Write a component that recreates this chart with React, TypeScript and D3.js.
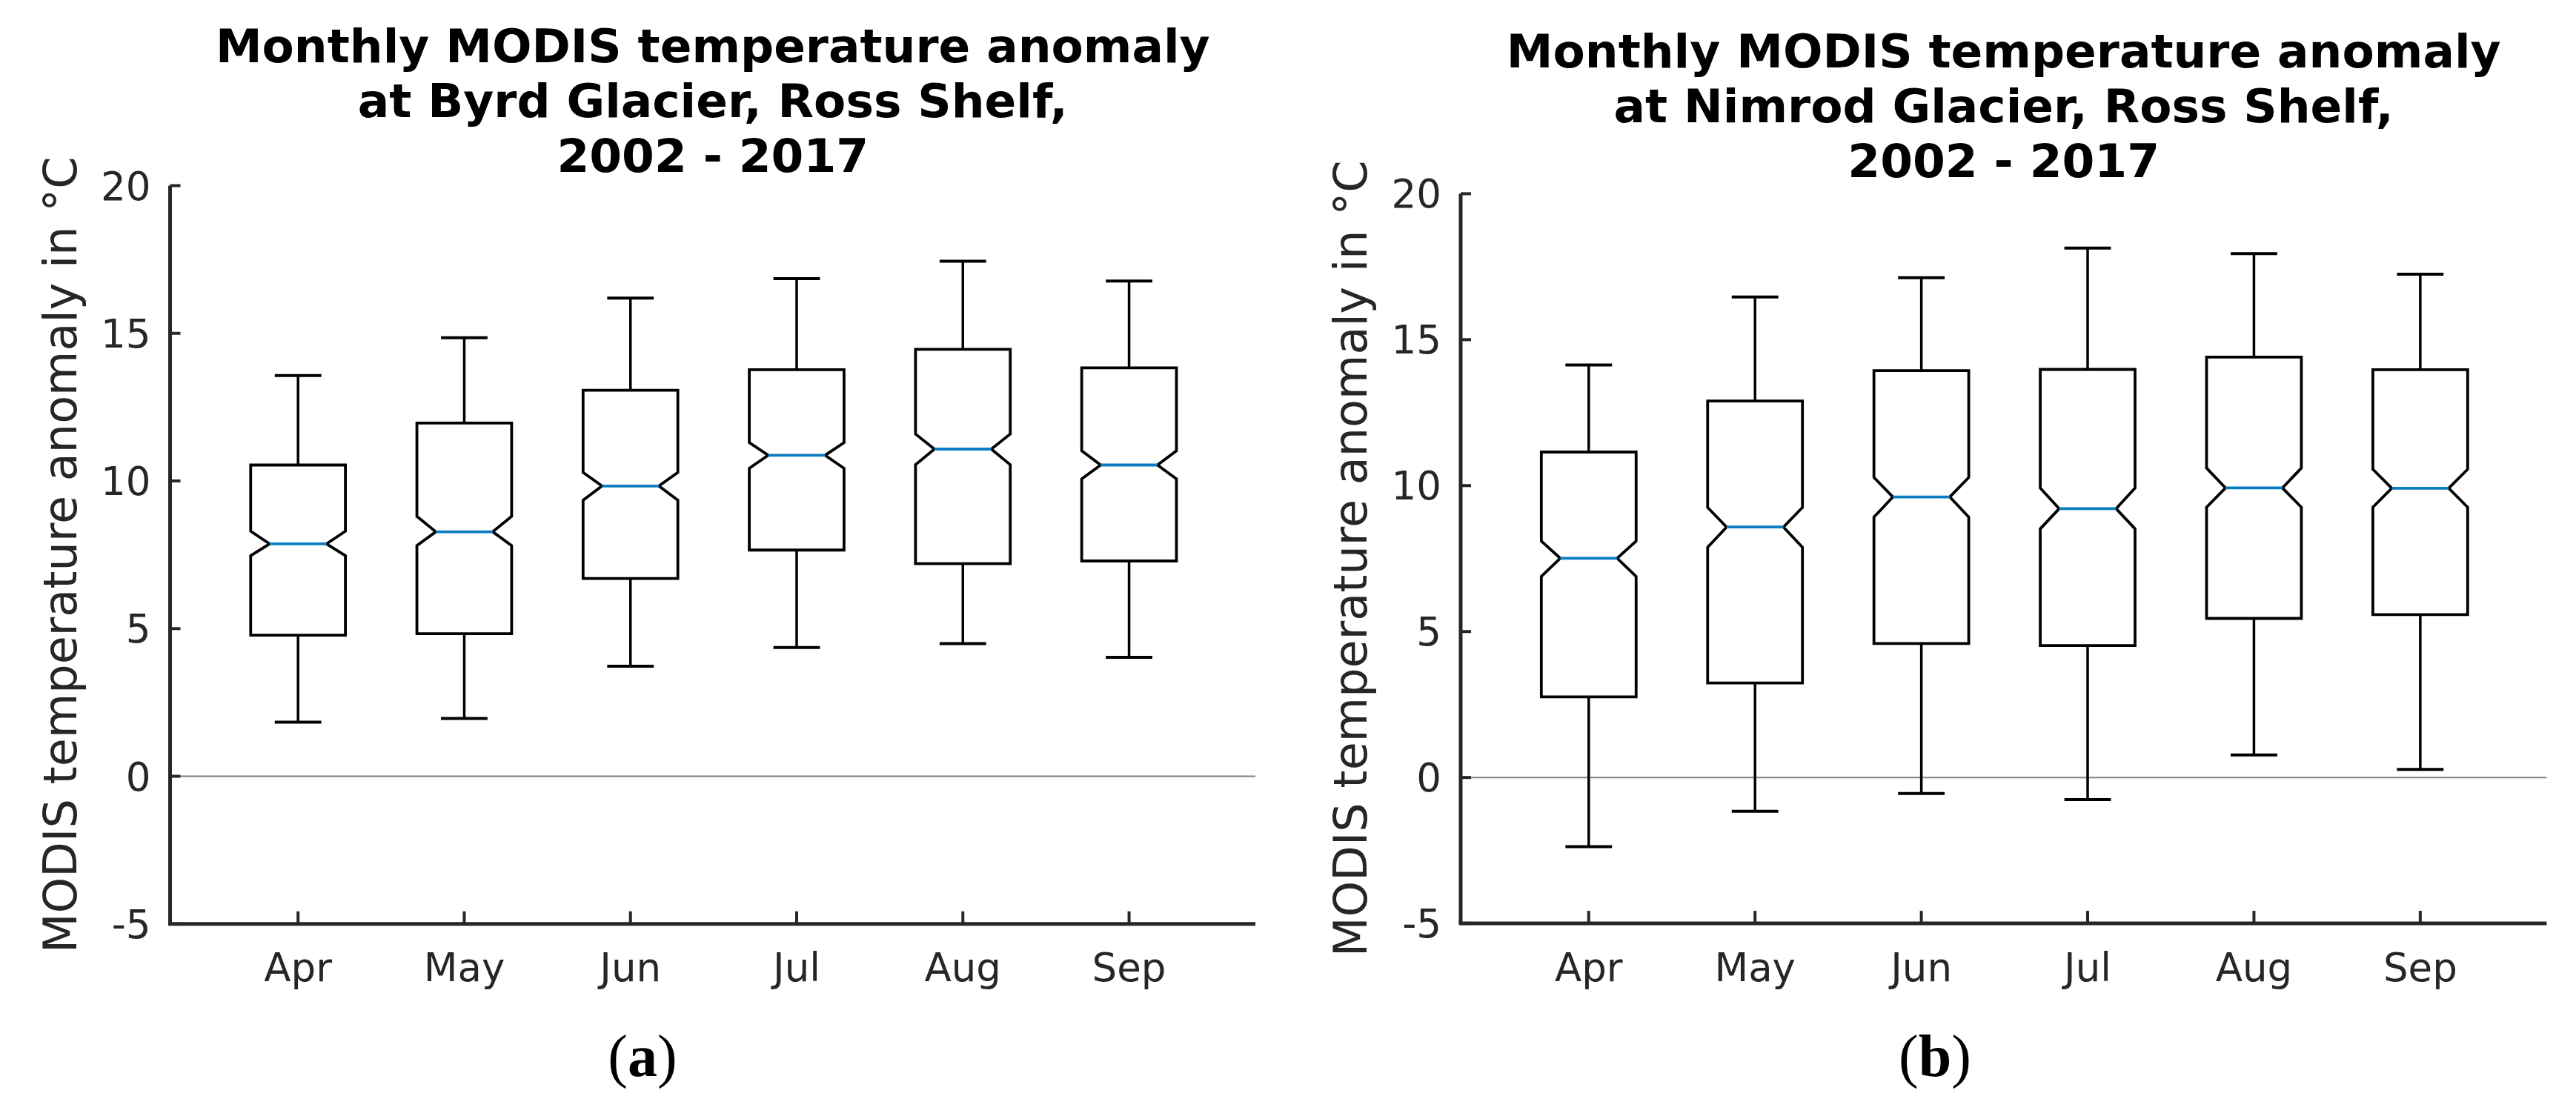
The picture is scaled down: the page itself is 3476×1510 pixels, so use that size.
import * as d3 from 'd3'

const months = ['Apr', 'May', 'Jun', 'Jul', 'Aug', 'Sep']
const yTicks = [-5, 0, 5, 10, 15, 20]

// Byrd Glacier
const byrdLow = [1.83, 1.96, 3.73, 4.36, 4.49, 4.03]
const byrdQ1 = [4.78, 4.83, 6.7, 7.66, 7.2, 7.29]
const byrdNotchLow = [7.47, 7.81, 9.35, 10.43, 10.55, 10.07]
const byrdMedian = [7.87, 8.28, 9.83, 10.87, 11.08, 10.54]
const byrdNotchHigh = [8.3, 8.8, 10.29, 11.3, 11.59, 11.02]
const byrdQ3 = [10.54, 11.96, 13.07, 13.77, 14.46, 13.83]
const byrdHigh = [13.57, 14.85, 16.19, 16.85, 17.44, 16.77]

// Nimrod Glacier
const nimrodLow = [-2.37, -1.16, -0.55, -0.76, 0.77, 0.28]
const nimrodQ1 = [2.76, 3.24, 4.59, 4.52, 5.45, 5.58]
const nimrodNotchLow = [6.89, 7.89, 8.92, 8.52, 9.26, 9.26]
const nimrodMedian = [7.51, 8.58, 9.61, 9.21, 9.92, 9.91]
const nimrodNotchHigh = [8.1, 9.25, 10.28, 9.92, 10.6, 10.56]
const nimrodQ3 = [11.15, 12.9, 13.94, 13.98, 14.4, 13.97]
const nimrodHigh = [14.13, 16.46, 17.12, 18.14, 17.95, 17.24]

const byrdTitle = ['Monthly MODIS temperature anomaly', 'at Byrd Glacier, Ross Shelf,', '2002 - 2017']
const nimrodTitle = ['Monthly MODIS temperature anomaly', 'at Nimrod Glacier, Ross Shelf,', '2002 - 2017']

const font = '"DejaVu Sans", sans-serif'
const axisColor = '#262626'
const medianColor = '#0a7cc1'

interface PanelProps {
  left: number
  right: number
  top: number
  bottom: number
  titleY: number
  title: string[]
  caption: string
  captionX: number
  low: number[]
  q1: number[]
  nlo: number[]
  med: number[]
  nhi: number[]
  q3: number[]
  high: number[]
}

function Panel(p: PanelProps) {
  const x = d3.scaleLinear().domain([0.23, 6.76]).range([p.left, p.right])
  const y = d3.scaleLinear().domain([-5, 20]).range([p.bottom, p.top])
  const boxW = 0.57
  const capW = 0.28
  const line = d3.line<[number, number]>()
  const cx = (p.left + p.right) / 2

  return (
    <g>
      {p.title.map((t, i) => (
        <text key={i} x={cx} y={p.titleY + i * 74} textAnchor="middle"
          fontFamily={font} fontWeight="bold" fontSize={63} fill="#000">{t}</text>
      ))}
      <text transform={`translate(${p.left - 127},${(p.top + p.bottom) / 2}) rotate(-90)`}
        textAnchor="middle" fontFamily={font} fontSize={62} fill={axisColor}>
        MODIS temperature anomaly in °C
      </text>

      {/* zero line */}
      <line x1={p.left} x2={p.right} y1={y(0)} y2={y(0)} stroke="#808080" strokeWidth={2} />

      {months.map((m, i) => {
        const c = i + 1
        const l = x(c - boxW / 2)
        const r = x(c + boxW / 2)
        const d = (r - l) * 0.2
        const pts: [number, number][] = [
          [l, y(p.q3[i])], [r, y(p.q3[i])], [r, y(p.nhi[i])], [r - d, y(p.med[i])],
          [r, y(p.nlo[i])], [r, y(p.q1[i])], [l, y(p.q1[i])], [l, y(p.nlo[i])],
          [l + d, y(p.med[i])], [l, y(p.nhi[i])], [l, y(p.q3[i])],
        ]
        return (
          <g key={m}>
            <line x1={x(c)} x2={x(c)} y1={y(p.q3[i])} y2={y(p.high[i])} stroke="#000" strokeWidth={3.5} />
            <line x1={x(c)} x2={x(c)} y1={y(p.q1[i])} y2={y(p.low[i])} stroke="#000" strokeWidth={3.5} />
            <line x1={x(c - capW / 2)} x2={x(c + capW / 2)} y1={y(p.high[i])} y2={y(p.high[i])} stroke="#000" strokeWidth={4} />
            <line x1={x(c - capW / 2)} x2={x(c + capW / 2)} y1={y(p.low[i])} y2={y(p.low[i])} stroke="#000" strokeWidth={4} />
            <path d={line(pts) + 'Z'} fill="none" stroke="#000" strokeWidth={3.8} strokeLinejoin="miter" />
            <line x1={l + d} x2={r - d} y1={y(p.med[i])} y2={y(p.med[i])} stroke={medianColor} strokeWidth={3.8} />
          </g>
        )
      })}

      {/* axes */}
      <line x1={p.left} x2={p.left} y1={p.top} y2={p.bottom} stroke={axisColor} strokeWidth={5} />
      <line x1={p.left - 2.5} x2={p.right} y1={p.bottom} y2={p.bottom} stroke={axisColor} strokeWidth={5} />
      {yTicks.map((t) => (
        <g key={t}>
          <line x1={p.left} x2={p.left + 14} y1={y(t)} y2={y(t)} stroke={axisColor} strokeWidth={4} />
          <text x={p.left - 26} y={y(t)} dy="0.36em" textAnchor="end" fontFamily={font} fontSize={53} fill={axisColor}>{t}</text>
        </g>
      ))}
      {months.map((m, i) => (
        <g key={m}>
          <line x1={x(i + 1)} x2={x(i + 1)} y1={p.bottom} y2={p.bottom - 17} stroke={axisColor} strokeWidth={4} />
          <text x={x(i + 1)} y={1324} textAnchor="middle" fontFamily={font} fontSize={53} fill={axisColor}>{m}</text>
        </g>
      ))}

      <text x={p.captionX} y={1452} textAnchor="middle" fontFamily='"Liberation Serif", serif' fontSize={80} fill="#000">
        (<tspan fontWeight="bold">{p.caption}</tspan>)
      </text>
    </g>
  )
}

export default function App() {
  return (
    <svg width={3476} height={1510} style={{ position: 'absolute', left: 0, top: 0, background: '#fff' }}>
      <rect width={3476} height={1510} fill="#fff" />
      <Panel left={229.5} right={1694} top={250.5} bottom={1246.8} titleY={84} title={byrdTitle}
        caption="a" captionX={867}
        low={byrdLow} q1={byrdQ1} nlo={byrdNotchLow} med={byrdMedian} nhi={byrdNotchHigh} q3={byrdQ3} high={byrdHigh} />
      <Panel left={1971} right={3436.4} top={261.4} bottom={1246.1} titleY={91} title={nimrodTitle}
        caption="b" captionX={2611}
        low={nimrodLow} q1={nimrodQ1} nlo={nimrodNotchLow} med={nimrodMedian} nhi={nimrodNotchHigh} q3={nimrodQ3} high={nimrodHigh} />
    </svg>
  )
}
